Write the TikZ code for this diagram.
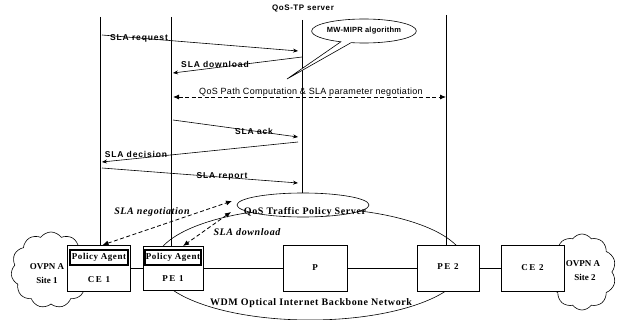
\documentclass[tikz,border=0pt]{standalone}
\usepackage{fontspec}
\setmainfont{Liberation Serif}
\setsansfont{Liberation Sans}
\usetikzlibrary{arrows.meta,shapes.geometric,shapes.symbols,shapes.callouts}
\begin{document}
\begin{tikzpicture}[x=1pt,y=-1pt,line width=0.6pt,
  box/.style={draw,fill=white,inner sep=0pt,outer sep=0pt},
  pabox/.style={draw,fill=white,line width=1.1pt,inner sep=0pt,outer sep=0pt,
     font=\bfseries\fontsize{9}{10}\selectfont\addfontfeatures{LetterSpace=6}},
  boxlab/.style={inner sep=0pt,font=\bfseries\fontsize{9}{10}\selectfont\addfontfeatures{LetterSpace=16}},
  cloudlab/.style={inner sep=0pt,font=\bfseries\fontsize{9}{10}\selectfont},
  seqlab/.style={inner sep=0pt,font=\sffamily\bfseries\fontsize{8.5}{9}\selectfont\addfontfeatures{LetterSpace=10}},
  lowlab/.style={inner sep=0pt,font=\bfseries\fontsize{10}{11}\selectfont\addfontfeatures{LetterSpace=6}},
  itlab/.style={inner sep=0pt,font=\bfseries\itshape\fontsize{10}{11}\selectfont\addfontfeatures{LetterSpace=6}},
  cloudshape/.style={cloud,cloud ignores aspect,draw,fill=white,cloud puff arc=110,inner sep=0pt},
  msg/.style={-{Stealth[length=5pt,width=4pt]}},
  dsh/.style={dash pattern=on 4pt off 2.5pt,line width=0.8pt},
  dmsg/.style={dsh,{Latex[length=6pt,width=5pt]}-{Latex[length=6pt,width=5pt]}}]
\useasboundingbox (0,0) rectangle (620,320);

% backbone network
\node[draw,ellipse,minimum width=310,minimum height=112,inner sep=0pt] (wdm) at (310,264) {};
\node[lowlab] (wdmt) at (311,303) {WDM Optical Internet Backbone Network};

% clouds
\node[cloudshape,cloud puffs=11,minimum width=80,minimum height=76] (cl1) at (51,270) {};
\node[cloudshape,cloud puffs=10,minimum width=68,minimum height=76] (cl2) at (582,272) {};
\node[cloudlab] (o1) at (47,267) {OVPN A};
\node[cloudlab] (s1) at (47,280) {Site 1};
\node[cloudlab] (o2) at (583,264) {OVPN A};
\node[cloudlab] (s2) at (585,277) {Site 2};

% policy server
\node[draw,ellipse,fill=white,minimum width=132,minimum height=24,inner sep=0pt] (qtps) at (303,205) {};
\node[lowlab] (qtpst) at (305,212) {QoS Traffic Policy Server};

% boxes
\node[box,minimum width=63,minimum height=46] (ce1) at (98.5,268) {};
\node[pabox,minimum width=58,minimum height=15] (pa1) at (99,257.5) {Policy Agent};
\node[boxlab] (ce1t) at (99,280) {CE 1};
\node[box,minimum width=60,minimum height=44] (pe1) at (173,268) {};
\node[pabox,minimum width=56,minimum height=15] (pa2) at (173,257.5) {Policy Agent};
\node[boxlab] (pe1t) at (173,279) {PE 1};
\node[box,minimum width=64,minimum height=46] (p) at (315,268) {};
\node[boxlab] (pt) at (315,268) {P};
\node[box,minimum width=62,minimum height=46] (pe2) at (448,268) {};
\node[boxlab] (pe2t) at (448,267) {PE 2};
\node[box,minimum width=63,minimum height=46] (ce2) at (532.5,268) {};
\node[boxlab] (ce2t) at (532.5,268) {CE 2};

\draw (ce1.east) -- (pe1.west);
\draw (pe1.east) -- (p.west);
\draw (p.east) -- (pe2.west);
\draw (pe2.east) -- (ce2.west);

% lifelines
\node[inner sep=0pt,font=\sffamily\bfseries\fontsize{8}{9}\selectfont\addfontfeatures{LetterSpace=7}] (srv) at (303,8) {QoS-TP server};
\coordinate (t1) at (100,17);
\coordinate (t2) at (171,17);
\coordinate (t3) at (302,20);
\coordinate (t4) at (446,15);
\draw (t1) -- (t1 |- ce1.north);
\draw (t2) -- (t2 |- pe1.north);
\draw (t3) -- (t3 |- qtps.north);
\draw (t4) -- (t4 |- pe2.north);

% messages
\coordinate (a1) at (102,35);  \coordinate (a2) at (298,51);
\coordinate (b1) at (302,57);  \coordinate (b2) at (173,73);
\coordinate (c1) at (173,97);  \coordinate (c2) at (446,97);
\coordinate (d1) at (173,120); \coordinate (d2) at (298,137);
\coordinate (e1) at (298,142); \coordinate (e2) at (102,162);
\coordinate (f1) at (102,168); \coordinate (f2) at (298,183);
\draw[msg] (a1) -- (a2);
\draw[msg] (b1) -- (b2);
\draw[dmsg] (c1) -- (c2);
\draw[msg] (d1) -- (d2);
\draw[msg] (e1) -- (e2);
\draw[msg] (f1) -- (f2);
\node[seqlab] (la) at (139,38) {SLA request};
\node[seqlab] (lb) at (215,64) {SLA download};
\node[inner sep=0pt,font=\sffamily\fontsize{9}{10}\selectfont\addfontfeatures{LetterSpace=3.5}] (lc) at (311,92.5) {QoS Path Computation \& SLA parameter negotiation};
\node[seqlab] (ld) at (254,131) {SLA ack};
\node[seqlab] (le) at (136,154) {SLA decision};
\node[seqlab] (lf) at (222,176) {SLA report};

% algorithm callout
\node[ellipse callout,draw,fill=white,callout absolute pointer={(287,79)},
      callout pointer arc=12,
      minimum width=90,minimum height=24,inner sep=0pt,
      font=\sffamily\bfseries\fontsize{7.5}{8}\selectfont\addfontfeatures{LetterSpace=3}] (mw) at (364,31) {MW-MIPR algorithm};

% policy negotiation
\coordinate (n1) at (232,201);
\coordinate (n2) at (231,212);
\draw[dmsg] ([xshift=4pt]ce1.north) -- (n1);
\draw[dmsg] (n2) -- ([xshift=10pt]pe1.north);
\node[itlab] (ln) at (152,212) {SLA negotiation};
\node[itlab] (ldl) at (247,232) {SLA download};
\end{tikzpicture}
\end{document}
